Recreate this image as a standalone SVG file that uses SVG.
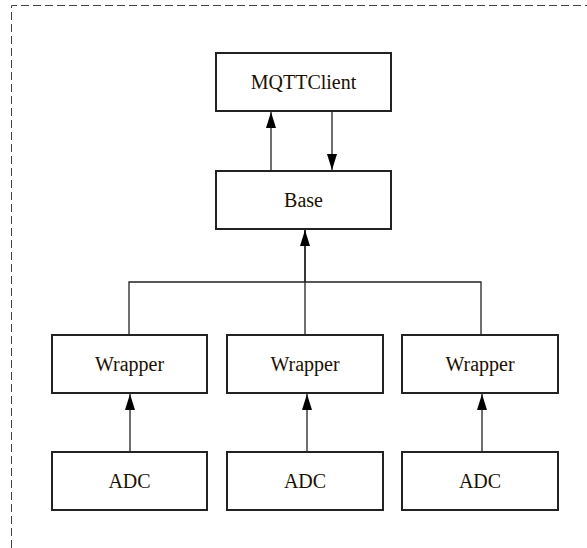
<svg xmlns="http://www.w3.org/2000/svg" width="587" height="548" viewBox="0 0 587 548">
<style>
.box{fill:#fff;stroke:#222;stroke-width:2}
.lbl{font-family:"Liberation Serif",serif;font-size:20px;fill:#1a1000;text-anchor:middle;dominant-baseline:central}
.ln{stroke:#222;stroke-width:1.3;fill:none}
</style>
<defs>
<marker id="ah" markerWidth="16" markerHeight="10" refX="16" refY="5" orient="auto" markerUnits="userSpaceOnUse" viewBox="0 0 16 10">
<path d="M0,0 L16,5 L0,10 Z" fill="#000"/>
</marker>
</defs>
<path d="M11.5,548 V5.5 H587" fill="none" stroke="#444" stroke-width="1" stroke-dasharray="8,4"/>
<g id="connectors">
<line class="ln" x1="271" y1="171" x2="271" y2="112" marker-end="url(#ah)"/>
<line class="ln" x1="332" y1="111" x2="332" y2="170" marker-end="url(#ah)"/>
<path class="ln" d="M129,335 V282 H481 V335 M305,335 V282"/>
<line class="ln" x1="305" y1="282" x2="305" y2="230" marker-end="url(#ah)" style="stroke-width:1.8"/>
<line class="ln" x1="130" y1="452" x2="130" y2="394" marker-end="url(#ah)"/>
<line class="ln" x1="307" y1="452" x2="307" y2="394" marker-end="url(#ah)"/>
<line class="ln" x1="482" y1="452" x2="482" y2="394" marker-end="url(#ah)"/>
</g>
<g id="mqttclient"><rect class="box" x="216" y="53" width="175" height="58"/><text class="lbl" x="303.5" y="82">MQTTClient</text></g>
<g id="base"><rect class="box" x="216" y="171" width="175" height="58"/><text class="lbl" x="303.5" y="200">Base</text></g>
<g id="wrapper1"><rect class="box" x="52" y="335" width="155" height="58"/><text class="lbl" x="129.5" y="364">Wrapper</text></g>
<g id="wrapper2"><rect class="box" x="227" y="335" width="156" height="58"/><text class="lbl" x="305" y="364">Wrapper</text></g>
<g id="wrapper3"><rect class="box" x="402" y="335" width="156" height="58"/><text class="lbl" x="480" y="364">Wrapper</text></g>
<g id="adc1"><rect class="box" x="52" y="452" width="155" height="58"/><text class="lbl" x="129.5" y="481">ADC</text></g>
<g id="adc2"><rect class="box" x="227" y="452" width="156" height="58"/><text class="lbl" x="305" y="481">ADC</text></g>
<g id="adc3"><rect class="box" x="402" y="452" width="156" height="58"/><text class="lbl" x="480" y="481">ADC</text></g>
</svg>
